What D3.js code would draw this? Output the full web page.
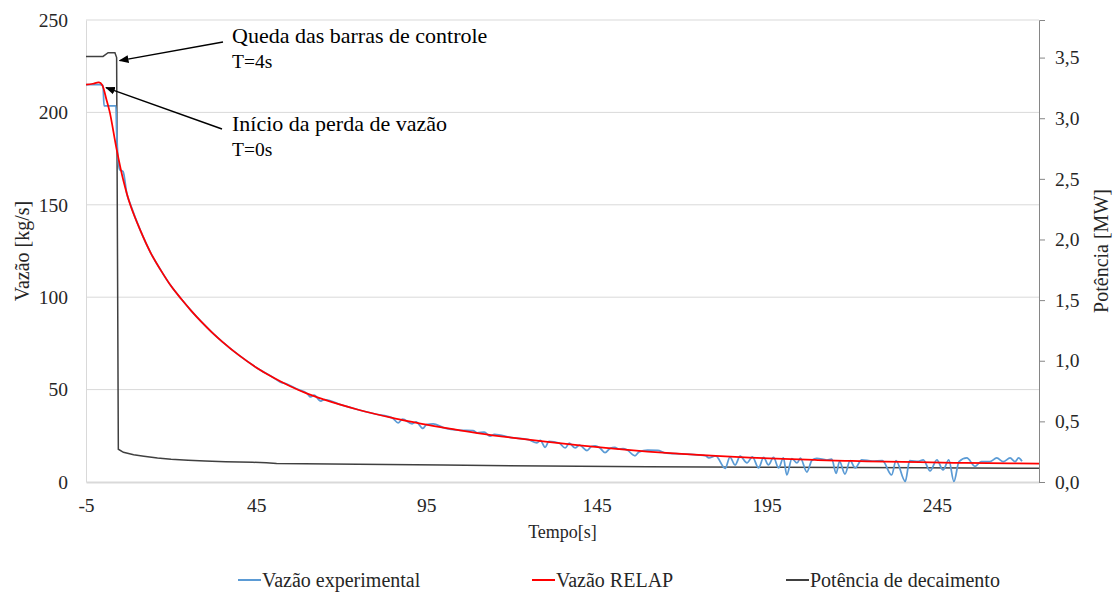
<!DOCTYPE html>
<html>
<head>
<meta charset="utf-8">
<script src="https://cdn.jsdelivr.net/npm/d3@7"></script>
<style>
  html, body { margin: 0; padding: 0; background: #fff; }
  svg { display: block; }
  text { font-family: "Liberation Serif", "Times New Roman", serif; fill: #262626; }
</style>
</head>
<body>
<svg id="chart" width="1116" height="593"></svg>
<script>
// Flow coastdown (kg/s) and decay power (MW) versus time (s)

const xTicks = [-5, 45, 95, 145, 195, 245];
const yLeftTicks = [0, 50, 100, 150, 200, 250];
const yRightTicks = [0, 0.5, 1.0, 1.5, 2.0, 2.5, 3.0, 3.5];

// Measured flow [time s, flow kg/s]
const flowExperimental = [
  [-5, 215], [-1, 215], [0, 214.5], [0.3, 203.5], [3.8, 203.5], [4.0, 190], [4.9, 169],
  [5.9, 168], [7, 156], [8, 150.5], [11, 136], [14, 124], [17, 114.5], [20, 106], [23, 99],
  [26, 92.5], [29, 86.5], [32, 81], [35, 76], [40, 68.5], [45, 62], [50, 56.5],
  [52, 54.2], [54, 53], [57, 50.3], [60, 47.8], [61, 46], [62, 47], [64, 43.8],
  [65, 44.6], [70, 41.7], [75, 39.1], [80, 36.8], [85, 34.7], [86.7, 32], [88, 34], [90.8, 31.5],
  [92, 32.5], [94, 29], [95, 31], [97, 31.5], [100, 29.4], [105, 28], [108.7, 27.8],
  [110, 26.6], [112, 27], [113.7, 24.8], [115, 25.8], [120, 24], [125, 22.9],
  [127.5, 21.2], [128.5, 22.5], [129.9, 18.8], [131, 22], [134, 21.1], [135.8, 18.4],
  [137, 21], [138.7, 18.4], [140, 19.9], [142.2, 17], [143.5, 19.2], [144.6, 19.6],
  [146, 18.4], [147.5, 15.9], [149, 18.2], [150.4, 18.8], [151.5, 17.8], [152.8, 18],
  [154, 17.3], [156.3, 14.2], [157.5, 16.3], [160, 17.2], [163, 17.1], [165, 15.8],
  [170, 15.2], [175, 14.6], [177, 14.2], [178, 13.1], [180, 14.1], [182.8, 7.4], [184.2, 13.5],
  [185.7, 9.2], [187.2, 14], [189.2, 10.3], [190.8, 13.6], [192.6, 7.6], [194.1, 13.3],
  [195.5, 9.2], [197, 13.3], [198.5, 7.6], [199.9, 13], [200.9, 3.8], [202.4, 12.7],
  [203.9, 10.3], [204.9, 12.9], [206.8, 5.4], [208.3, 11.8], [209.7, 12.8], [212.7, 11.9],
  [214.1, 12.4], [215.4, 4.7], [216.4, 11.2], [218, 4.3], [219.5, 11.5], [221, 7.6],
  [222.9, 12], [226, 11.3], [229, 11.5], [231.7, 3.8], [233, 11.5], [235.7, 0.3],
  [237, 11.5], [239.6, 11.2], [241, 12], [243, 6], [245, 12], [246.8, 6.5], [248.5, 12],
  [250, 0.3], [251.5, 11], [253.8, 13], [256.2, 8.5], [258, 11], [260.5, 11], [262.6, 13],
  [264.5, 11], [266.5, 13], [268, 11], [269, 13], [270, 11.2]
];

// RELAP5 simulated flow [time s, flow kg/s]
const flowRelap = [
  [-5, 215], [-3, 215.5], [-1.2, 216.2], [-0.3, 215], [1, 207], [2, 200], [4, 180],
  [6, 163], [8, 150], [11, 136], [14, 124], [17, 114.5], [20, 106], [23, 99], [26, 92.5],
  [29, 86.5], [32, 81], [35, 76], [40, 68.5], [45, 62], [50, 56.5], [55, 51.8], [60, 47.8],
  [65, 44.6], [70, 41.7], [75, 39.1], [80, 36.8], [85, 34.7], [90, 32.8], [95, 31], [100, 29.4],
  [110, 26.5], [120, 24], [130, 21.8], [140, 19.8], [150, 18], [160, 16.5], [170, 15.2],
  [180, 14.1], [190, 13.2], [200, 12.5], [210, 11.9], [220, 11.4], [230, 11], [240, 10.7],
  [250, 10.4], [260, 10.2], [275, 10]
];

// Decay power [time s, power MW]
const decayPower = [
  [-5, 3.51], [0, 3.51], [1.5, 3.54], [3.5, 3.54], [4.0, 3.50], [4.5, 0.27], [6, 0.245],
  [9, 0.225], [12, 0.213], [16, 0.198], [20, 0.188], [25, 0.18], [30, 0.173], [36, 0.168],
  [44, 0.163], [48, 0.158], [51, 0.153], [75, 0.146], [100, 0.14], [130, 0.132],
  [160, 0.126], [200, 0.122], [240, 0.118], [275, 0.113]
];

const seriesNames = ["Vazão experimental", "Vazão RELAP", "Potência de decaimento"];
const seriesColors = ["#5b9bd5", "#ff0000", "#404040"];

const svg = d3.select("#chart");
const plot = { left: 86, right: 1039, top: 20, bottom: 482 };

const x = d3.scaleLinear().domain([-5, 275]).range([plot.left, plot.right]);
const yL = d3.scaleLinear().domain([0, 250]).range([plot.bottom, plot.top]);
const yR = d3.scaleLinear().domain([0, 3.81]).range([plot.bottom, plot.top]);

const comma = d => d3.format(".1f")(d).replace(".", ",");
const plain = d => String(d);

// Horizontal gridlines
svg.append("g")
  .selectAll("line")
  .data(yLeftTicks.filter(d => d > 0))
  .join("line")
  .attr("x1", plot.left).attr("x2", plot.right)
  .attr("y1", d => yL(d)).attr("y2", d => yL(d))
  .attr("stroke", "#d9d9d9").attr("stroke-width", 1);

function styleTicks(g) {
  g.attr("font-family", null);
  g.selectAll("text").style("font-size", "19.5px").attr("fill", "#262626");
}

// Left axis (labels only, light frame line)
const gL = svg.append("g")
  .attr("transform", `translate(${plot.left},0)`)
  .call(d3.axisLeft(yL).tickValues(yLeftTicks).tickFormat(plain).tickSize(0).tickPadding(18));
gL.select(".domain").attr("stroke", "#d9d9d9");
styleTicks(gL);

// Bottom axis
const gB = svg.append("g")
  .attr("transform", `translate(0,${plot.bottom})`)
  .call(d3.axisBottom(x).tickValues(xTicks).tickFormat(plain).tickSize(0).tickPadding(16));
gB.select(".domain").attr("stroke", "#d9d9d9").attr("stroke-width", 2);
styleTicks(gB);

// Right axis (power)
const gR = svg.append("g")
  .attr("transform", `translate(${plot.right},0)`)
  .call(d3.axisRight(yR).tickValues(yRightTicks).tickSize(6).tickPadding(10).tickFormat(comma));
gR.select(".domain").attr("stroke", "#868686");
gR.selectAll(".tick line").attr("stroke", "#868686");
styleTicks(gR);

// Series
const lineR = d3.line().x(d => x(d[0])).y(d => yR(d[1]));

svg.append("path").datum(decayPower)
  .attr("d", lineR).attr("fill", "none")
  .attr("stroke", seriesColors[2]).attr("stroke-width", 1.5);

svg.append("path").datum(flowExperimental)
  .attr("d", d3.line().x(d => x(d[0])).y(d => yL(d[1])).curve(d3.curveMonotoneX))
  .attr("fill", "none")
  .attr("stroke", seriesColors[0]).attr("stroke-width", 1.75);

svg.append("path").datum(flowRelap)
  .attr("d", d3.line().x(d => x(d[0])).y(d => yL(d[1])).curve(d3.curveCatmullRom))
  .attr("fill", "none")
  .attr("stroke", seriesColors[1]).attr("stroke-width", 1.75);

// Annotations with arrows
const defs = svg.append("defs");
defs.append("marker")
  .attr("id", "arrowhead")
  .attr("viewBox", "0 0 10 10").attr("refX", 9).attr("refY", 5)
  .attr("markerWidth", 7).attr("markerHeight", 7).attr("orient", "auto")
  .append("path").attr("d", "M0,1 L10,5 L0,9 Z").attr("fill", "#000");

const notes = [
  { text: "Queda das barras de controle", sub: "T=4s", t: 4, series: decayPower, scale: yR,
    from: [223, 42], ty: 35 },
  { text: "Início da perda de vazão", sub: "T=0s", t: 0, series: flowRelap, scale: yL,
    from: [222, 129], ty: 123 }
];

notes.forEach(n => {
  const pt = n.series.reduce((a, b) => Math.abs(b[0] - n.t) < Math.abs(a[0] - n.t) ? b : a);
  const tx = x(n.t) + 3, tyy = n.scale(pt[1]) + 3;
  svg.append("line")
    .attr("x1", n.from[0]).attr("y1", n.from[1])
    .attr("x2", tx).attr("y2", tyy)
    .attr("stroke", "#000").attr("stroke-width", 1.4)
    .attr("marker-end", "url(#arrowhead)");
  svg.append("text").attr("x", 232).attr("y", n.ty).attr("dy", "0.35em")
    .style("font-size", "22px").style("fill", "#000").text(n.text);
  svg.append("text").attr("x", 232).attr("y", n.ty + 26).attr("dy", "0.35em")
    .style("font-size", "19.5px").style("fill", "#000").text(n.sub);
});

// Axis titles
svg.append("text")
  .attr("transform", `translate(22,${(plot.top + plot.bottom) / 2}) rotate(-90)`)
  .attr("text-anchor", "middle").attr("dy", "0.35em")
  .style("font-size", "20px").text("Vazão [kg/s]");

svg.append("text")
  .attr("transform", `translate(1101,${(plot.top + plot.bottom) / 2}) rotate(-90)`)
  .attr("text-anchor", "middle").attr("dy", "0.35em")
  .style("font-size", "20px").text("Potência [MW]");

svg.append("text")
  .attr("x", (plot.left + plot.right) / 2).attr("y", 532).attr("dy", "0.35em")
  .attr("text-anchor", "middle")
  .style("font-size", "18px").text("Tempo[s]");

// Legend
const legendX = [238, 532, 786];
const lg = svg.append("g").selectAll("g")
  .data(seriesNames)
  .join("g")
  .attr("transform", (d, i) => `translate(${legendX[i]},580)`);
lg.append("line").attr("x1", 0).attr("x2", 23).attr("y1", 0).attr("y2", 0)
  .attr("stroke", (d, i) => seriesColors[i]).attr("stroke-width", 2);
lg.append("text").attr("x", 24).attr("dy", "0.35em")
  .style("font-size", "20px").text(d => d);
</script>
</body>
</html>
